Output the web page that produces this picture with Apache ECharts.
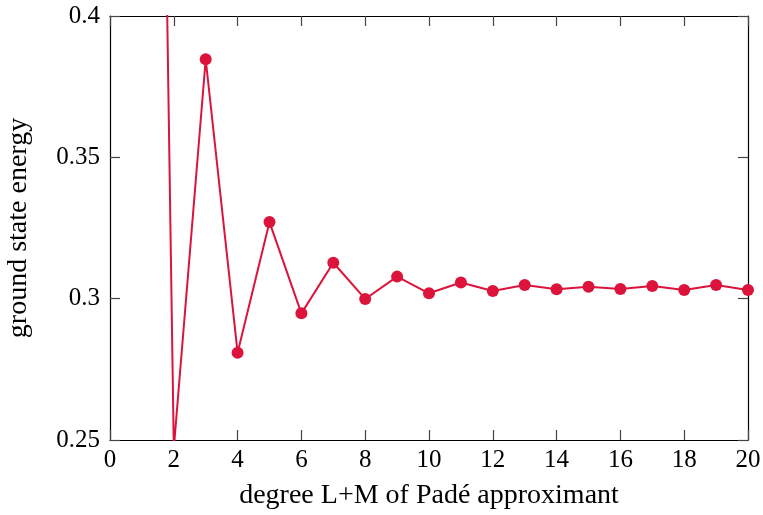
<!DOCTYPE html>
<html>
<head>
<meta charset="utf-8">
<script src="https://cdn.jsdelivr.net/npm/echarts@6/dist/echarts.min.js"></script>
<style>html,body{margin:0;padding:0;background:#fff;}#c{width:763px;height:515px;}</style>
</head>
<body>
<div id="c"></div>
<script>
const degrees = [1,2,3,4,5,6,7,8,9,10,11,12,13,14,15,16,17,18,19,20];
const energies = [0.99,0.247,0.3847,0.2809,0.3271,0.2948,0.3127,0.2999,0.3078,0.3019,0.3057,0.3027,0.3048,0.3033,0.3042,0.3034,0.3045,0.3031,0.3048,0.3031];
const xTitle = 'degree L+M of Padé approximant';
const yTitle = 'ground state energy';

const font = '"Liberation Serif", "DejaVu Serif", serif';
const fsTick = 25;
const fsTitle = 28;
const chart = echarts.init(document.getElementById('c'), null, {renderer:'canvas'});
const axisCommon = {
  axisLine:{show:true,onZero:false,lineStyle:{color:'#000',width:1.2}},
  axisTick:{show:true,inside:true,length:10,lineStyle:{color:'#444',width:1.2}},
  splitLine:{show:false}
};
chart.setOption({
  animation:false,
  backgroundColor:'#fff',
  grid:{left:110,right:15,top:16,bottom:75,containLabel:false,outerBoundsMode:'none'},
  xAxis:[
    Object.assign({type:'value',position:'bottom',min:0,max:20,interval:2,
      name:xTitle,nameLocation:'middle',nameGap:42,
      nameTextStyle:{fontFamily:font,fontSize:fsTitle,color:'#000'},
      axisLabel:{fontFamily:font,fontSize:fsTick,color:'#000',margin:8}},axisCommon),
    Object.assign({type:'value',position:'top',min:0,max:20,interval:2,
      axisLabel:{show:false}},axisCommon)
  ],
  yAxis:[
    Object.assign({type:'value',position:'left',min:0.25,max:0.4,interval:0.05,
      name:yTitle,nameLocation:'middle',nameGap:77,nameRotate:90,
      nameTextStyle:{fontFamily:font,fontSize:fsTitle,color:'#000'},
      axisLabel:{fontFamily:font,fontSize:fsTick,color:'#000',margin:10}},axisCommon),
    Object.assign({type:'value',position:'right',min:0.25,max:0.4,interval:0.05,
      axisLabel:{show:false}},axisCommon)
  ],
  series:[{
    type:'line',
    data:degrees.map((d,i)=>[d,energies[i]]),
    symbol:'circle',symbolSize:12,
    lineStyle:{color:'#DC143C',width:2},
    itemStyle:{color:'#DC143C'},
    clip:true
  }]
});
</script>
</body>
</html>
